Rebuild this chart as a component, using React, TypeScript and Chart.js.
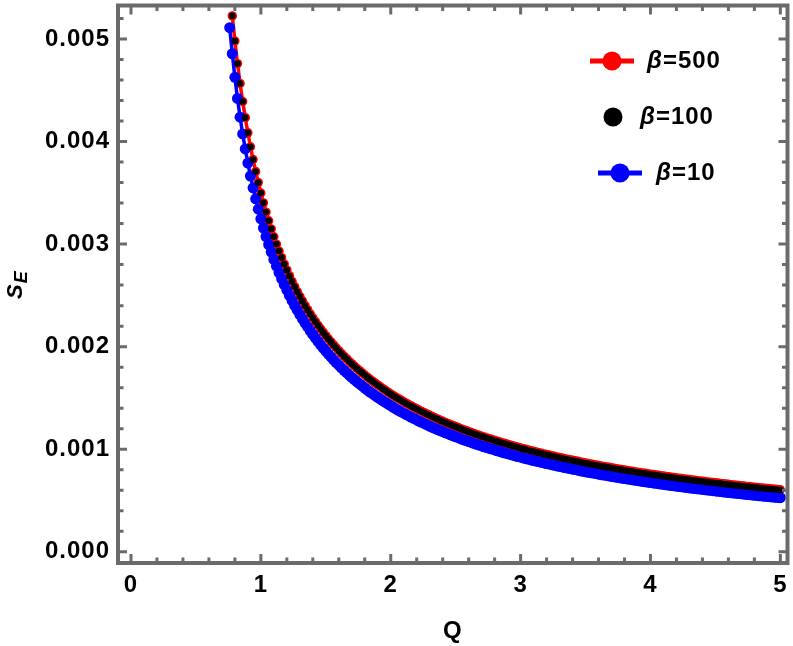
import React, { useEffect, useRef } from "react";
import { Chart, registerables } from "chart.js";

Chart.register(...registerables);

// Q values (step 0.02), rows of ten
const Q = [
  0.76, 0.78, 0.80, 0.82, 0.84, 0.86, 0.88, 0.90, 0.92, 0.94,
  0.96, 0.98, 1.00, 1.02, 1.04, 1.06, 1.08, 1.10, 1.12, 1.14,
  1.16, 1.18, 1.20, 1.22, 1.24, 1.26, 1.28, 1.30, 1.32, 1.34,
  1.36, 1.38, 1.40, 1.42, 1.44, 1.46, 1.48, 1.50, 1.52, 1.54,
  1.56, 1.58, 1.60, 1.62, 1.64, 1.66, 1.68, 1.70, 1.72, 1.74,
  1.76, 1.78, 1.80, 1.82, 1.84, 1.86, 1.88, 1.90, 1.92, 1.94,
  1.96, 1.98, 2.00, 2.02, 2.04, 2.06, 2.08, 2.10, 2.12, 2.14,
  2.16, 2.18, 2.20, 2.22, 2.24, 2.26, 2.28, 2.30, 2.32, 2.34,
  2.36, 2.38, 2.40, 2.42, 2.44, 2.46, 2.48, 2.50, 2.52, 2.54,
  2.56, 2.58, 2.60, 2.62, 2.64, 2.66, 2.68, 2.70, 2.72, 2.74,
  2.76, 2.78, 2.80, 2.82, 2.84, 2.86, 2.88, 2.90, 2.92, 2.94,
  2.96, 2.98, 3.00, 3.02, 3.04, 3.06, 3.08, 3.10, 3.12, 3.14,
  3.16, 3.18, 3.20, 3.22, 3.24, 3.26, 3.28, 3.30, 3.32, 3.34,
  3.36, 3.38, 3.40, 3.42, 3.44, 3.46, 3.48, 3.50, 3.52, 3.54,
  3.56, 3.58, 3.60, 3.62, 3.64, 3.66, 3.68, 3.70, 3.72, 3.74,
  3.76, 3.78, 3.80, 3.82, 3.84, 3.86, 3.88, 3.90, 3.92, 3.94,
  3.96, 3.98, 4.00, 4.02, 4.04, 4.06, 4.08, 4.10, 4.12, 4.14,
  4.16, 4.18, 4.20, 4.22, 4.24, 4.26, 4.28, 4.30, 4.32, 4.34,
  4.36, 4.38, 4.40, 4.42, 4.44, 4.46, 4.48, 4.50, 4.52, 4.54,
  4.56, 4.58, 4.60, 4.62, 4.64, 4.66, 4.68, 4.70, 4.72, 4.74,
  4.76, 4.78, 4.80, 4.82, 4.84, 4.86, 4.88, 4.90, 4.92, 4.94,
  4.96, 4.98, 5.00,
];

// S_E values in units of 1e-3
const SE_BETA500 = [
  null, 5.225, 4.980, 4.760, 4.566, 4.390, 4.233, 4.085, 3.949, 3.825,
  3.708, 3.600, 3.498, 3.402, 3.312, 3.228, 3.148, 3.072, 3.000, 2.932,
  2.868, 2.806, 2.748, 2.692, 2.638, 2.587, 2.538, 2.491, 2.446, 2.402,
  2.361, 2.321, 2.282, 2.245, 2.209, 2.174, 2.141, 2.108, 2.077, 2.047,
  2.017, 1.989, 1.961, 1.934, 1.908, 1.883, 1.858, 1.834, 1.811, 1.788,
  1.766, 1.745, 1.724, 1.703, 1.683, 1.664, 1.645, 1.627, 1.609, 1.591,
  1.574, 1.557, 1.540, 1.524, 1.508, 1.493, 1.478, 1.463, 1.449, 1.434,
  1.421, 1.407, 1.394, 1.380, 1.368, 1.355, 1.343, 1.331, 1.319, 1.307,
  1.296, 1.284, 1.273, 1.262, 1.252, 1.241, 1.231, 1.221, 1.211, 1.201,
  1.191, 1.182, 1.172, 1.163, 1.154, 1.145, 1.136, 1.128, 1.119, 1.111,
  1.103, 1.095, 1.087, 1.079, 1.071, 1.063, 1.056, 1.048, 1.041, 1.034,
  1.027, 1.020, 1.013, 1.006, 0.999, 0.993, 0.986, 0.980, 0.973, 0.967,
  0.961, 0.955, 0.949, 0.943, 0.937, 0.931, 0.925, 0.920, 0.914, 0.908,
  0.903, 0.898, 0.892, 0.887, 0.882, 0.876, 0.871, 0.866, 0.861, 0.856,
  0.852, 0.847, 0.842, 0.837, 0.833, 0.828, 0.824, 0.819, 0.815, 0.810,
  0.806, 0.802, 0.797, 0.793, 0.789, 0.785, 0.781, 0.777, 0.773, 0.769,
  0.765, 0.761, 0.757, 0.753, 0.750, 0.746, 0.742, 0.739, 0.735, 0.731,
  0.728, 0.724, 0.721, 0.717, 0.714, 0.711, 0.707, 0.704, 0.701, 0.697,
  0.694, 0.691, 0.688, 0.685, 0.682, 0.679, 0.676, 0.673, 0.670, 0.667,
  0.664, 0.661, 0.658, 0.655, 0.652, 0.649, 0.647, 0.644, 0.641, 0.638,
  0.636, 0.633, 0.630, 0.628, 0.625, 0.623, 0.620, 0.617, 0.615, 0.612,
  0.610, 0.607, 0.605,
];

const SE_BETA100 = [
  null, 5.225, 4.980, 4.760, 4.566, 4.390, 4.233, 4.085, 3.949, 3.825,
  3.708, 3.600, 3.498, 3.402, 3.312, 3.228, 3.148, 3.072, 3.000, 2.932,
  2.868, 2.805, 2.746, 2.689, 2.635, 2.584, 2.535, 2.488, 2.443, 2.399,
  2.358, 2.318, 2.279, 2.242, 2.206, 2.171, 2.138, 2.105, 2.074, 2.044,
  2.014, 1.986, 1.958, 1.931, 1.905, 1.880, 1.855, 1.831, 1.808, 1.785,
  1.763, 1.742, 1.721, 1.700, 1.680, 1.661, 1.642, 1.624, 1.606, 1.588,
  1.571, 1.554, 1.537, 1.521, 1.505, 1.490, 1.475, 1.460, 1.446, 1.431,
  1.418, 1.404, 1.391, 1.377, 1.365, 1.352, 1.340, 1.328, 1.316, 1.304,
  1.293, 1.281, 1.270, 1.259, 1.249, 1.238, 1.228, 1.218, 1.208, 1.198,
  1.188, 1.179, 1.169, 1.160, 1.151, 1.142, 1.133, 1.125, 1.116, 1.108,
  1.100, 1.092, 1.084, 1.076, 1.068, 1.060, 1.053, 1.045, 1.038, 1.031,
  1.024, 1.017, 1.010, 1.003, 0.996, 0.990, 0.983, 0.977, 0.970, 0.964,
  0.958, 0.952, 0.946, 0.940, 0.934, 0.928, 0.922, 0.917, 0.911, 0.905,
  0.900, 0.895, 0.889, 0.884, 0.879, 0.873, 0.868, 0.863, 0.858, 0.853,
  0.849, 0.844, 0.839, 0.834, 0.830, 0.825, 0.821, 0.816, 0.812, 0.807,
  0.803, 0.799, 0.794, 0.790, 0.786, 0.782, 0.778, 0.774, 0.770, 0.766,
  0.762, 0.758, 0.754, 0.750, 0.747, 0.743, 0.739, 0.736, 0.732, 0.728,
  0.725, 0.721, 0.718, 0.714, 0.711, 0.708, 0.704, 0.701, 0.698, 0.694,
  0.691, 0.688, 0.685, 0.682, 0.679, 0.676, 0.673, 0.670, 0.667, 0.664,
  0.661, 0.658, 0.655, 0.652, 0.649, 0.646, 0.644, 0.641, 0.638, 0.635,
  0.633, 0.630, 0.627, 0.625, 0.622, 0.620, 0.617, 0.614, 0.612, 0.609,
  0.607, 0.604, 0.602,
];

const SE_BETA10 = [
  5.110, 4.856, 4.626, 4.420, 4.238, 4.074, 3.928, 3.790, 3.664, 3.549,
  3.441, 3.340, 3.246, 3.157, 3.074, 2.996, 2.922, 2.851, 2.785, 2.722,
  2.662, 2.605, 2.551, 2.499, 2.449, 2.402, 2.356, 2.313, 2.271, 2.230,
  2.192, 2.155, 2.119, 2.084, 2.051, 2.018, 1.987, 1.957, 1.928, 1.900,
  1.872, 1.845, 1.819, 1.794, 1.770, 1.746, 1.723, 1.700, 1.679, 1.657,
  1.637, 1.617, 1.597, 1.577, 1.558, 1.541, 1.523, 1.506, 1.489, 1.472,
  1.456, 1.440, 1.424, 1.409, 1.393, 1.379, 1.365, 1.351, 1.338, 1.324,
  1.311, 1.298, 1.286, 1.272, 1.261, 1.249, 1.237, 1.226, 1.214, 1.203,
  1.192, 1.181, 1.171, 1.160, 1.151, 1.140, 1.131, 1.121, 1.112, 1.102,
  1.092, 1.084, 1.074, 1.066, 1.057, 1.048, 1.040, 1.032, 1.024, 1.016,
  1.008, 1.001, 0.993, 0.985, 0.978, 0.970, 0.963, 0.956, 0.949, 0.942,
  0.935, 0.929, 0.922, 0.915, 0.908, 0.903, 0.896, 0.890, 0.883, 0.878,
  0.872, 0.866, 0.860, 0.855, 0.849, 0.843, 0.837, 0.832, 0.827, 0.821,
  0.816, 0.811, 0.805, 0.801, 0.796, 0.790, 0.785, 0.780, 0.775, 0.771,
  0.767, 0.762, 0.757, 0.752, 0.748, 0.744, 0.740, 0.735, 0.731, 0.726,
  0.722, 0.718, 0.714, 0.710, 0.706, 0.702, 0.698, 0.694, 0.690, 0.686,
  0.682, 0.679, 0.675, 0.671, 0.668, 0.664, 0.660, 0.657, 0.653, 0.649,
  0.647, 0.643, 0.640, 0.636, 0.633, 0.630, 0.626, 0.623, 0.620, 0.616,
  0.614, 0.611, 0.608, 0.605, 0.602, 0.599, 0.596, 0.593, 0.590, 0.587,
  0.584, 0.581, 0.578, 0.576, 0.573, 0.570, 0.568, 0.565, 0.562, 0.559,
  0.557, 0.554, 0.551, 0.549, 0.546, 0.544, 0.541, 0.539, 0.537, 0.534,
  0.532, 0.529, 0.527,
];

const SERIES_LABELS = ["β=500", "β=100", "β=10"];

const X_MAJOR = [0, 1, 2, 3, 4, 5];
const X_MINOR = [
  0.2, 0.4, 0.6, 0.8, 1.2, 1.4, 1.6, 1.8, 2.2, 2.4, 2.6, 2.8,
  3.2, 3.4, 3.6, 3.8, 4.2, 4.4, 4.6, 4.8,
];
const Y_MAJOR = [0, 0.001, 0.002, 0.003, 0.004, 0.005];
const Y_MINOR = [
  0.0002, 0.0004, 0.0006, 0.0008, 0.0012, 0.0014, 0.0016, 0.0018,
  0.0022, 0.0024, 0.0026, 0.0028, 0.0032, 0.0034, 0.0036, 0.0038,
  0.0042, 0.0044, 0.0046, 0.0048, 0.0052,
];

const X_MIN = -0.1;
const X_MAX = 5.055;
const Y_MIN = -0.0001095;
const Y_MAX = 0.0053265;

const FONT_FAMILY = '"Liberation Sans", Arial, Helvetica, sans-serif';
const FRAME_COLOR = "#6b6b6b";

function toPoints(values: (number | null)[]) {
  return Q.map((q, i) => ({
    x: q,
    y: values[i] == null ? null : (values[i] as number) / 1000,
  }));
}

const framePlugin = {
  id: "mmaFrame",
  beforeDraw(chart: any) {
    (chart.ctx as any).letterSpacing = "1px";
  },
  afterDatasetsDraw(chart: any) {
    const { ctx, chartArea: a, scales } = chart;
    const xs = scales.x;
    const ys = scales.y;
    ctx.save();
    ctx.strokeStyle = FRAME_COLOR;
    ctx.lineCap = "butt";
    ctx.lineWidth = 3;
    const MAJ = 9;
    const MIN = 5.5;
    const xTick = (v: number, len: number) => {
      const p = xs.getPixelForValue(v);
      ctx.beginPath();
      ctx.moveTo(p, a.bottom);
      ctx.lineTo(p, a.bottom - len);
      ctx.moveTo(p, a.top);
      ctx.lineTo(p, a.top + len);
      ctx.stroke();
    };
    const yTick = (v: number, len: number) => {
      const p = ys.getPixelForValue(v);
      ctx.beginPath();
      ctx.moveTo(a.left, p);
      ctx.lineTo(a.left + len, p);
      ctx.moveTo(a.right, p);
      ctx.lineTo(a.right - len, p);
      ctx.stroke();
    };
    X_MAJOR.forEach((v) => xTick(v, MAJ));
    X_MINOR.forEach((v) => xTick(v, MIN));
    Y_MAJOR.forEach((v) => yTick(v, MAJ));
    Y_MINOR.forEach((v) => yTick(v, MIN));
    ctx.lineWidth = 4;
    ctx.strokeRect(a.left, a.top, a.right - a.left, a.bottom - a.top);
    ctx.restore();
  },
  afterDraw(chart: any) {
    const ctx = chart.ctx as CanvasRenderingContext2D;
    ctx.save();
    (ctx as any).letterSpacing = "1px";
    ctx.fillStyle = "#000";
    ctx.textBaseline = "middle";
    ctx.textAlign = "left";

    const betaText = (label: string, x: number, y: number) => {
      const beta = label.slice(0, 1);
      const rest = label.slice(1);
      ctx.font = `italic bold 24px ${FONT_FAMILY}`;
      ctx.fillStyle = "#000";
      ctx.fillText(beta, x, y);
      const w = ctx.measureText(beta).width;
      ctx.font = `bold 24px ${FONT_FAMILY}`;
      ctx.fillText(rest, x + w, y);
    };

    // legend
    const items = [
      { label: SERIES_LABELS[0], color: "#ff0000", line: [590, 634], cx: 612, y: 61, tx: 647 },
      { label: SERIES_LABELS[1], color: "#000000", line: null, cx: 613, y: 117, tx: 640 },
      { label: SERIES_LABELS[2], color: "#0000ff", line: [598, 642], cx: 620, y: 173, tx: 656 },
    ];
    items.forEach((it) => {
      if (it.line) {
        ctx.strokeStyle = it.color;
        ctx.lineWidth = 5;
        ctx.beginPath();
        ctx.moveTo(it.line[0], it.y);
        ctx.lineTo(it.line[1], it.y);
        ctx.stroke();
      }
      ctx.fillStyle = it.color;
      ctx.beginPath();
      ctx.arc(it.cx, it.y, 9.5, 0, Math.PI * 2);
      ctx.fill();
      betaText(it.label, it.tx, it.y);
    });

    // y-axis title S_E
    ctx.save();
    ctx.translate(22, 299);
    ctx.rotate(-Math.PI / 2);
    ctx.textBaseline = "alphabetic";
    ctx.fillStyle = "#000";
    ctx.font = `italic bold 22px ${FONT_FAMILY}`;
    ctx.fillText("S", 0, 0);
    const sw = ctx.measureText("S").width;
    ctx.font = `italic bold 18px ${FONT_FAMILY}`;
    ctx.fillText("E", sw, 5);
    ctx.restore();

    ctx.restore();
  },
};

export default function App() {
  const canvasRef = useRef<HTMLCanvasElement | null>(null);

  useEffect(() => {
    if (!canvasRef.current) return;
    if (
      SE_BETA500.length !== Q.length ||
      SE_BETA100.length !== Q.length ||
      SE_BETA10.length !== Q.length
    ) {
      throw new Error(
        `length mismatch Q=${Q.length} b500=${SE_BETA500.length} b100=${SE_BETA100.length} b10=${SE_BETA10.length}`
      );
    }
    const tickFont = { family: FONT_FAMILY, size: 24, weight: "bold" as const };
    const chart = new Chart(canvasRef.current, {
      type: "scatter",
      data: {
        datasets: [
          {
            label: SERIES_LABELS[0],
            data: toPoints(SE_BETA500),
            showLine: true,
            borderColor: "#ff0000",
            backgroundColor: "#ff0000",
            borderWidth: 3.5,
            pointRadius: 4.7,
            pointBorderWidth: 0,
            pointBackgroundColor: "#ff0000",
            order: 2,
          },
          {
            label: SERIES_LABELS[1],
            data: toPoints(SE_BETA100),
            showLine: false,
            borderColor: "#000000",
            backgroundColor: "#000000",
            pointRadius: 3.3,
            pointBorderWidth: 0,
            pointBackgroundColor: "#000000",
            order: 0,
          },
          {
            label: SERIES_LABELS[2],
            data: toPoints(SE_BETA10),
            showLine: true,
            borderColor: "#0000ff",
            backgroundColor: "#0000ff",
            borderWidth: 3.5,
            pointRadius: 5.5,
            pointBorderWidth: 0,
            pointBackgroundColor: "#0000ff",
            order: 1,
          },
        ],
      },
      options: {
        animation: false,
        responsive: false,
        devicePixelRatio: 1,
        layout: { padding: { top: 2, right: 5, left: 0, bottom: 0 } },
        plugins: {
          legend: { display: false },
          tooltip: { enabled: false },
        },
        scales: {
          x: {
            type: "linear",
            min: X_MIN,
            max: X_MAX,
            grid: { display: false, drawTicks: false },
            border: { display: false },
            ticks: {
              font: tickFont,
              color: "#000",
              padding: 8,
              maxRotation: 0,
              autoSkip: false,
              callback: (v: any) => String(v),
            },
            afterBuildTicks: (s: any) => {
              s.ticks = X_MAJOR.map((v) => ({ value: v }));
            },
            afterFit: (s: any) => {
              s.height = 83;
              s.paddingLeft = 0;
              s.paddingRight = 0;
            },
            title: {
              display: true,
              text: "Q",
              color: "#000",
              font: tickFont,
              padding: { top: 0, bottom: 0 },
            },
          },
          y: {
            type: "linear",
            min: Y_MIN,
            max: Y_MAX,
            grid: { display: false, drawTicks: false },
            border: { display: false },
            ticks: {
              font: tickFont,
              color: "#000",
              padding: 8,
              autoSkip: false,
              callback: (v: any) => Number(v).toFixed(3),
            },
            afterBuildTicks: (s: any) => {
              s.ticks = Y_MAJOR.map((v) => ({ value: v }));
            },
            afterFit: (s: any) => {
              s.width = 118;
              s.paddingTop = 0;
              s.paddingBottom = 0;
            },
          },
        },
      },
      plugins: [framePlugin],
    });
    return () => chart.destroy();
  }, []);

  return (
    <div
      style={{
        position: "absolute",
        left: 0,
        top: 0,
        width: 793,
        height: 646,
        background: "#ffffff",
      }}
    >
      <canvas
        ref={canvasRef}
        width={793}
        height={646}
        style={{ display: "block", width: 793, height: 646 }}
      />
    </div>
  );
}
